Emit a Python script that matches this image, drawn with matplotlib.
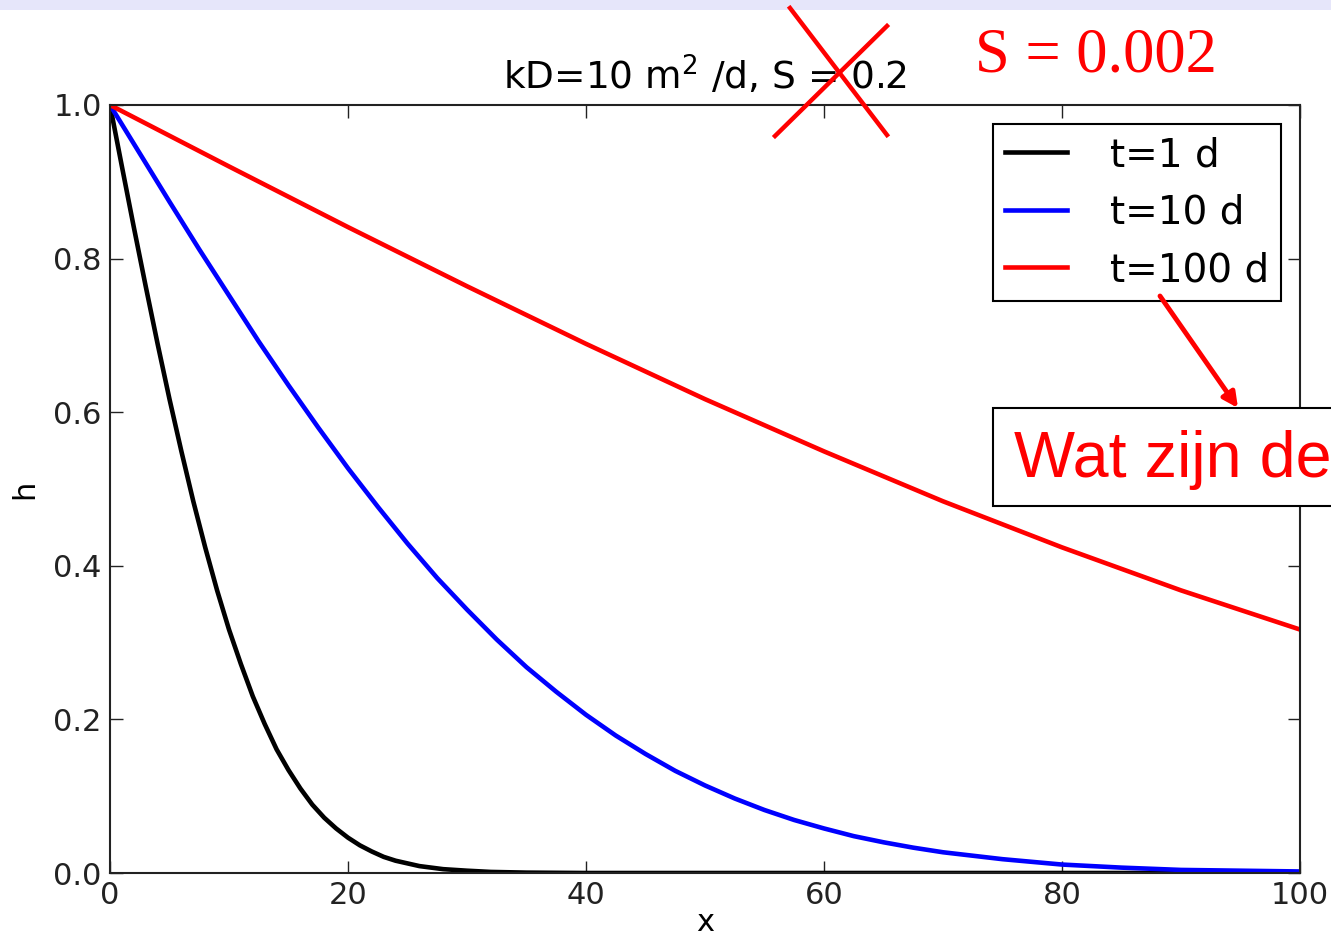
import matplotlib
matplotlib.use("Agg")
import matplotlib.pyplot as plt
from matplotlib.patches import Rectangle, FancyArrowPatch
from matplotlib.lines import Line2D

# values
x_t1 = [0, 1, 2, 3, 4, 5, 6, 7, 8, 9, 10, 11, 12, 13, 14, 15, 16, 17, 18, 19,
        20, 21, 22, 23, 24, 26, 28, 30, 32, 35, 40, 100]
h_t1 = [1.0, 0.920, 0.841, 0.764, 0.689, 0.617, 0.549, 0.484, 0.424, 0.368,
        0.317, 0.272, 0.230, 0.194, 0.161, 0.134, 0.110, 0.089, 0.072, 0.058,
        0.046, 0.036, 0.028, 0.021, 0.016, 0.009, 0.005, 0.003, 0.0014,
        0.0005, 0.0, 0.0]

x_t10 = [0, 2.5, 5, 7.5, 10, 12.5, 15, 17.5, 20, 22.5, 25, 27.5, 30, 32.5, 35,
         37.5, 40, 42.5, 45, 47.5, 50, 52.5, 55, 57.5, 60, 62.5, 65, 67.5, 70,
         75, 80, 85, 90, 95, 100]
h_t10 = [1.0, 0.937, 0.874, 0.812, 0.752, 0.692, 0.635, 0.580, 0.527, 0.477,
         0.429, 0.384, 0.343, 0.304, 0.268, 0.236, 0.206, 0.179, 0.155, 0.133,
         0.114, 0.097, 0.082, 0.069, 0.058, 0.048, 0.040, 0.033, 0.027,
         0.018, 0.011, 0.007, 0.004, 0.003, 0.002]

x_t100 = [0, 10, 20, 30, 40, 50, 60, 70, 80, 90, 100]
h_t100 = [1.0, 0.920, 0.841, 0.764, 0.689, 0.617, 0.549, 0.484, 0.424, 0.368,
          0.317]

labels = ["t=1 d", "t=10 d", "t=100 d"]
colors = ["black", "blue", "red"]
x_ticks = [0, 20, 40, 60, 80, 100]
y_ticks = [0.0, 0.2, 0.4, 0.6, 0.8, 1.0]

W, H = 1331, 938
fig = plt.figure(figsize=(W / 100, H / 100), dpi=100)
fig.patch.set_facecolor("white")

# lavender strip at the top of the slide
fig.add_artist(Rectangle((0, 1 - 10 / H), 1, 10 / H, transform=fig.transFigure,
                         facecolor="#e6e6fa", edgecolor="none"))

ax = fig.add_axes([110 / W, 1 - 873 / H, 1190 / W, 768 / H])
for xs, hs, lab, c in zip([x_t1, x_t10, x_t100], [h_t1, h_t10, h_t100],
                          labels, colors):
    ax.plot(xs, hs, color=c, linewidth=3.3, label=lab,
            solid_joinstyle="round")

ax.set_xlim(0, 100)
ax.set_ylim(0, 1)
ax.set_xticks(x_ticks)
ax.set_yticks(y_ticks)
ax.set_xticklabels([str(v) for v in x_ticks])
ax.set_yticklabels([f"{v:.1f}" for v in y_ticks])
ax.tick_params(direction="in", top=True, right=True, length=9, width=1,
               labelsize=22, pad=6, colors="#222222")
for s in ax.spines.values():
    s.set_linewidth(1.5)
    s.set_color("#222222")
ax.set_xlabel("x", fontsize=22, labelpad=-2)
ax.set_ylabel("h", fontsize=22, labelpad=10)
ax.set_title(r"kD=10 m$^2$ /d, S = 0.2", fontsize=27, pad=11)

leg = ax.legend(loc="upper right", fontsize=28, handlelength=1.6,
                handletextpad=1.1, labelspacing=0.5, borderpad=0.3,
                borderaxespad=0.5, fancybox=False, framealpha=1)
leg.get_frame().set_edgecolor("black")
leg.get_frame().set_linewidth(1.5)

# annotations drawn over the slide
def fx(px):
    return px / W


def fy(py):
    return 1 - py / H


fig.add_artist(Line2D([fx(790), fx(887)], [fy(8), fy(135)],
                      transform=fig.transFigure, color="red", linewidth=3.2))
fig.add_artist(Line2D([fx(887), fx(775)], [fy(26), fy(136)],
                      transform=fig.transFigure, color="red", linewidth=3.2))
fig.text(fx(975), fy(56), "S = 0.002", color="red", fontsize=45,
         family="Liberation Serif", ha="left", va="center")

fig.add_artist(FancyArrowPatch((fx(1160), fy(296)), (fx(1238), fy(408)),
                               transform=fig.transFigure, color="red",
                               linewidth=3.5, arrowstyle="-|>",
                               mutation_scale=22, shrinkA=0, shrinkB=0))
fig.add_artist(Rectangle((fx(993), fy(506)), fx(400), 98 / H,
                         transform=fig.transFigure, facecolor="white",
                         edgecolor="black", linewidth=1.5))
fig.text(fx(1014), fy(460), "Wat zijn de", color="red", fontsize=46.5,
         family="Liberation Sans", ha="left", va="center")

fig.savefig("out.png", dpi=100)
